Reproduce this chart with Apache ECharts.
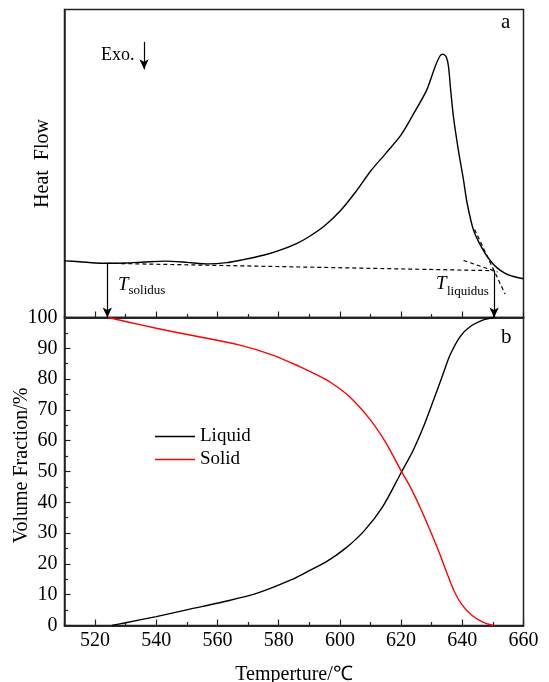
<!DOCTYPE html>
<html>
<head>
<meta charset="utf-8">
<script src="https://cdn.jsdelivr.net/npm/echarts@6/dist/echarts.min.js"></script>
<style>
html,body{margin:0;padding:0;background:#fff}
#main{width:549px;height:682px}
</style>
</head>
<body>
<div id="main"></div>
<script>
// 面板a：DSC 热流曲线
var hfT = [510,515,520,524,530,536,543,550,557,563,568,575,580,586,590,595,600,605,610,615,620,624,628.4,631.1,632.7,633.6,634.7,635.5,636.2,637.1,638.7,640.4,641.5,643.6,646.4,649.1,651.3,654,656,658,660];
var hfV = [18.4,18.1,17.7,17.6,17.7,18.0,18.3,17.9,17.4,17.8,18.7,20.2,21.7,24.1,26.3,29.8,34.5,40.6,47.5,53.3,59.3,66.0,73.9,81.4,84.9,85.5,84.7,81.4,73.9,65.2,54.4,44.6,37.5,28.6,22.6,18.5,16.2,14.3,13.5,13.0,12.6];

// 面板b：液相/固相体积分数
var liqT = [525.5,530,540,551,562,573,584,590,596,602,608,614,620,624,627.3,630.6,633.8,636,639.3,642.5,646.9,650.2];
var liqV = [0,0.9,2.9,5.3,7.7,10.5,14.8,17.8,21.0,25.2,30.8,38.6,49.6,57.0,64.5,73.2,81.9,87.8,93.8,97.0,99.2,100];
var solT = [524.3,530,540,551,567,578,587,592,597,603,610,615,620,623,626,629,632,635,637.5,640,643,646.5,650.2];
var solV = [100,98.7,96.5,94.3,91.1,87.8,84.0,81.6,78.9,74.4,66.7,59.4,50.2,45.0,38.8,32.0,24.8,17.0,10.8,6.6,3.4,1.2,0];

// 刻度
var xMajor = [520,540,560,580,600,620,640,660];
var xMinor = [510,530,550,570,590,610,630,650];

// 切线（虚线）和箭头
var baseLine = [[524,17.6],[650.4,15.2]];
var tailLine = [[640.4,18.5],[651.5,14.8]];
var tangentLine = [[644,28.6],[654,7.6]];
var solidusArrow = [[524,17.6],[524,0]];
var liquidusArrow = [[650.4,15.2],[650.4,0]];
var exoArrow = [[536,89.5],[536,80.6]];

function zip(a, b) {
	var out = [];
	for (var i = 0; i < a.length; i++) {
		out.push([a[i], b[i]]);
	}
	return out;
}

var FONT = "'Liberation Serif','Times New Roman',serif";
var AX = '#222';

function xAxisOf(grid, ticks, len, labels) {
	return {
		type: 'value', gridIndex: grid, position: 'bottom', min: 510, max: 660,
		axisLine: {show: true, lineStyle: {color: AX, width: 1.5}},
		axisTick: {show: true, inside: true, length: len, customValues: ticks, lineStyle: {color: AX, width: 1.2}},
		axisLabel: labels ? {show: true, customValues: ticks, color: '#000', fontFamily: FONT, fontSize: 20, margin: 5} : {show: false},
		splitLine: {show: false}
	};
}

function dashed(d) {
	return {
		type: 'line', xAxisIndex: 0, yAxisIndex: 0, data: d, showSymbol: false, silent: true,
		lineStyle: {color: '#000', width: 1.2, type: [4, 3]}
	};
}

function arrow(d) {
	return [{coord: d[0]}, {coord: d[1]}];
}

var myChart = echarts.init(document.getElementById('main'));

var ax0 = xAxisOf(0, xMajor, 6, false);
var ax1 = xAxisOf(0, xMinor, 3.5, false);
var ax2 = xAxisOf(1, xMajor, 6, true);
ax2.name = 'Temperture/℃';
ax2.nameLocation = 'middle';
ax2.nameGap = 39;
ax2.nameMoveOverlap = false;
ax2.nameTextStyle = {color: '#000', fontFamily: FONT, fontSize: 20};
var ax3 = xAxisOf(1, xMinor, 3.5, false);

var option = {
	animation: false,
	grid: [
		{left: 64.5, right: 25.5, top: 9.5, height: 308, show: true, borderColor: AX, borderWidth: 1.5, outerBoundsMode: 'none', containLabel: false},
		{left: 64.5, right: 25.5, top: 317.5, height: 308, show: true, borderColor: AX, borderWidth: 1.5, outerBoundsMode: 'none', containLabel: false}
	],
	xAxis: [ax0, ax1, ax2, ax3],
	yAxis: [
		{
			type: 'value', gridIndex: 0, min: 0, max: 100,
			name: 'Heat  Flow', nameLocation: 'middle', nameGap: 12, nameMoveOverlap: false,
			nameTextStyle: {color: '#000', fontFamily: FONT, fontSize: 20},
			axisLine: {show: true, lineStyle: {color: AX, width: 1.5}},
			axisTick: {show: false}, axisLabel: {show: false}, splitLine: {show: false}
		},
		{
			type: 'value', gridIndex: 1, min: 0, max: 100, interval: 10,
			name: 'Volume Fraction/%', nameLocation: 'middle', nameGap: 33, nameMoveOverlap: false,
			nameTextStyle: {color: '#000', fontFamily: FONT, fontSize: 20, padding: [0, 0, 0, 12]},
			axisLine: {show: true, lineStyle: {color: AX, width: 1.5}},
			axisTick: {show: true, inside: true, length: 6, lineStyle: {color: AX, width: 1.2}},
			minorTick: {show: true, splitNumber: 2, length: 3.5, lineStyle: {color: AX, width: 1.2}},
			axisLabel: {color: '#000', fontFamily: FONT, fontSize: 20, margin: 7},
			splitLine: {show: false}
		}
	],
	legend: {
		data: ['Liquid', 'Solid'], orient: 'vertical', left: 150, top: 422,
		icon: 'rect', itemWidth: 40, itemHeight: 1.6, itemGap: 4,
		textStyle: {color: '#000', fontFamily: FONT, fontSize: 19}
	},
	series: [
		{
			name: 'Heat Flow', type: 'line', xAxisIndex: 0, yAxisIndex: 0,
			data: zip(hfT, hfV), showSymbol: false, smooth: 0.25,
			lineStyle: {color: '#000', width: 1.4},
			markLine: {
				silent: true, symbol: ['none', 'arrow'], symbolSize: [7, 10],
				label: {show: false},
				lineStyle: {color: '#000', width: 1.2, type: 'solid'},
				data: [arrow(solidusArrow), arrow(liquidusArrow), arrow(exoArrow)]
			}
		},
		dashed(baseLine),
		dashed(tailLine),
		dashed(tangentLine),
		{
			name: 'Liquid', type: 'line', xAxisIndex: 2, yAxisIndex: 1,
			data: zip(liqT, liqV), showSymbol: false, smooth: 0.3,
			color: '#000', lineStyle: {color: '#000', width: 1.4}
		},
		{
			name: 'Solid', type: 'line', xAxisIndex: 2, yAxisIndex: 1,
			data: zip(solT, solV), showSymbol: false, smooth: 0.3,
			color: '#ff0000', lineStyle: {color: '#ff0000', width: 1.4}
		}
	],
	graphic: [
		{type: 'text', left: 501, top: 12, style: {text: 'a', fontFamily: FONT, fontSize: 21, fill: '#000'}},
		{type: 'text', left: 501, top: 327, style: {text: 'b', fontFamily: FONT, fontSize: 21, fill: '#000'}},
		{type: 'text', left: 101, top: 46, style: {text: 'Exo.', fontFamily: FONT, fontSize: 18, fill: '#000'}},
		{type: 'text', left: 118, top: 275, style: {text: 'T', fontFamily: FONT, fontStyle: 'italic', fontSize: 19, fill: '#000'}},
		{type: 'text', left: 128.5, top: 284, style: {text: 'solidus', fontFamily: FONT, fontSize: 13, fill: '#000'}},
		{type: 'text', left: 436, top: 274, style: {text: 'T', fontFamily: FONT, fontStyle: 'italic', fontSize: 19, fill: '#000'}},
		{type: 'text', left: 447, top: 285, style: {text: 'liquidus', fontFamily: FONT, fontSize: 13, fill: '#000'}}
	]
};

myChart.setOption(option);
</script>
</body>
</html>
